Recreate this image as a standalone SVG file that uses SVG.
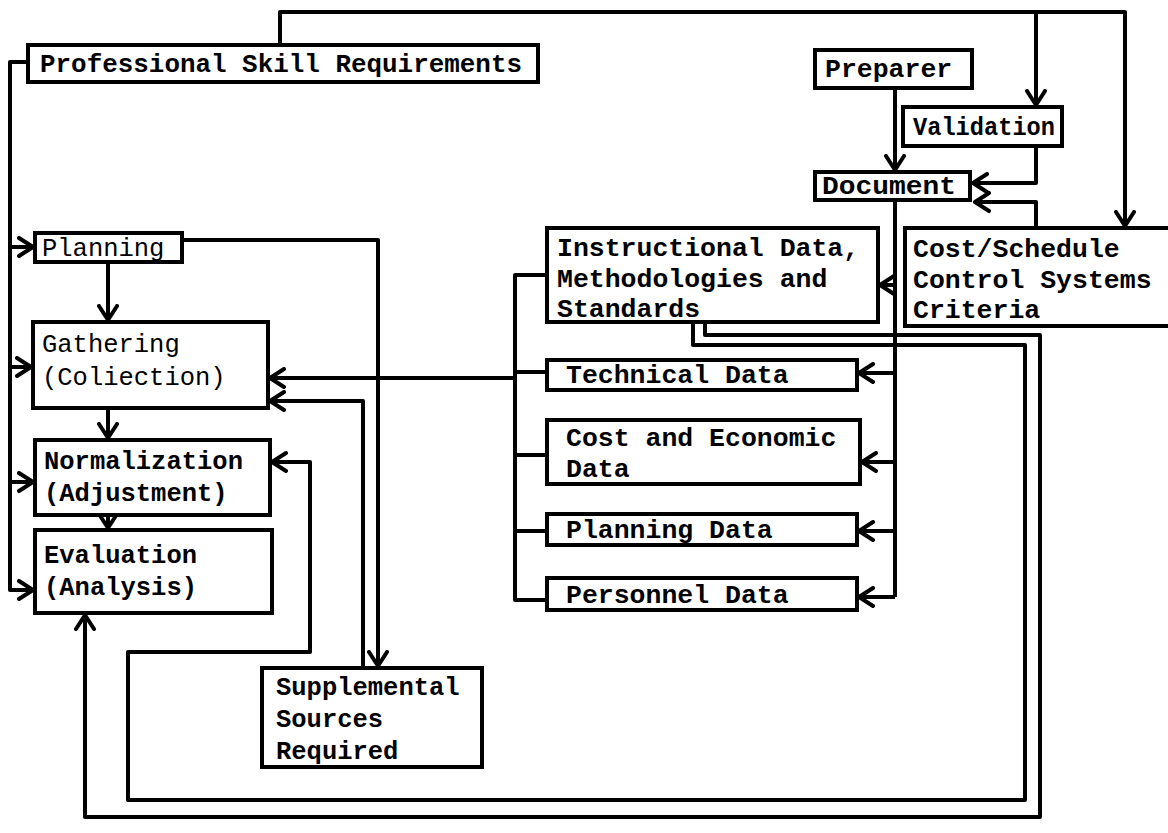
<svg xmlns="http://www.w3.org/2000/svg" width="1168" height="833" viewBox="0 0 1168 833">
<defs>
<marker id="arr" viewBox="0 0 18 22" refX="16" refY="11" markerWidth="18" markerHeight="22" markerUnits="userSpaceOnUse" orient="auto">
<path d="M2,2 L16,11 L2,20" fill="none" stroke="#000" stroke-width="4" stroke-linecap="round" stroke-linejoin="round"/>
</marker>
<style>
.box{fill:#fff;stroke:#000;stroke-width:4}
.ln{fill:none;stroke:#000;stroke-width:4;stroke-linejoin:round}
.a{marker-end:url(#arr)}
text{font-family:"Liberation Mono","DejaVu Sans Mono",monospace;font-size:25.5px;fill:#000;font-weight:bold}
.lt{font-weight:normal}
.r{font-size:26.5px}
</style>
</defs>
<rect width="1168" height="833" fill="#fff"/>
<g id="connectors">
<path class="ln a" d="M280,45 V12 H1125 V226"/>
<path class="ln a" d="M1036,12 V105"/>
<path class="ln a" d="M895,88 V170"/>
<path class="ln a" d="M1036,146 V183 H973"/>
<path class="ln a" d="M1036,228 V202 H975"/>
<path class="ln" d="M895,200 V597"/>
<path class="ln a" d="M895,285 H880"/>
<path class="ln a" d="M895,373 H859"/>
<path class="ln a" d="M895,462 H862"/>
<path class="ln a" d="M895,531 H859"/>
<path class="ln a" d="M895,597 H859"/>
<path class="ln" d="M547,275 H515 V600 H547"/>
<path class="ln" d="M515,372 H547"/>
<path class="ln" d="M515,455 H547"/>
<path class="ln" d="M515,531 H547"/>
<path class="ln a" d="M515,378 H270"/>
<path class="ln a" d="M182,240 H378 V666"/>
<path class="ln a" d="M363,668 V401 H270"/>
<path class="ln a" d="M108,262 V320"/>
<path class="ln a" d="M108,408 V438"/>
<path class="ln a" d="M108,515 V528"/>
<path class="ln a" d="M28,62 H10 V590 H33"/>
<path class="ln a" d="M10,247 H33"/>
<path class="ln a" d="M10,367 H31"/>
<path class="ln a" d="M10,482 H33"/>
<path class="ln a" d="M693,322 V345 H1025 V800 H128 V652 H310 V462 H272"/>
<path class="ln a" d="M705,322 V335 H1040 V817 H85 V615"/>
</g>
<g id="psr"><rect class="box" x="28" y="45" width="510" height="37"/><text x="40" y="72" textLength="482" lengthAdjust="spacingAndGlyphs">Professional Skill Requirements</text></g>
<g id="preparer"><rect class="box" x="815" y="50" width="157" height="38"/><text class="r" x="825" y="77">Preparer</text></g>
<g id="validation"><rect class="box" x="903" y="107" width="159" height="39"/><text class="r" x="913" y="135" textLength="142" lengthAdjust="spacingAndGlyphs">Validation</text></g>
<g id="document"><rect class="box" x="815" y="172" width="155" height="28"/><text class="r" x="822" y="194" textLength="134" lengthAdjust="spacingAndGlyphs">Document</text></g>
<g id="planning"><rect class="box" x="35" y="233" width="147" height="29"/><text class="lt" x="42" y="256">Planning</text></g>
<g id="gathering"><rect class="box" x="33" y="322" width="235" height="86"/><text class="lt" x="42" y="352">Gathering</text><text class="lt" x="42" y="385">(Coliection)</text></g>
<g id="normalization"><rect class="box" x="35" y="440" width="235" height="75"/><text x="44" y="469">Normalization</text><text x="44" y="501">(Adjustment)</text></g>
<g id="evaluation"><rect class="box" x="35" y="530" width="237" height="83"/><text x="44" y="563">Evaluation</text><text x="44" y="595">(Analysis)</text></g>
<g id="instructional"><rect class="box" x="547" y="228" width="331" height="94"/><text class="r" x="557" y="256">Instructional Data,</text><text class="r" x="557" y="287">Methodologies and</text><text class="r" x="557" y="317">Standards</text></g>
<g id="costschedule"><rect class="box" x="905" y="228" width="275" height="98"/><text class="r" x="913" y="257">Cost/Schedule</text><text class="r" x="913" y="288">Control Systems</text><text class="r" x="913" y="318">Criteria</text></g>
<g id="technical"><rect class="box" x="547" y="360" width="310" height="30"/><text class="r" x="566" y="383">Technical Data</text></g>
<g id="costeconomic"><rect class="box" x="547" y="420" width="313" height="64"/><text class="r" x="566" y="446">Cost and Economic</text><text class="r" x="566" y="477">Data</text></g>
<g id="planningdata"><rect class="box" x="547" y="514" width="310" height="31"/><text class="r" x="566" y="538">Planning Data</text></g>
<g id="personnel"><rect class="box" x="547" y="578" width="310" height="32"/><text class="r" x="566" y="603">Personnel Data</text></g>
<g id="supplemental"><rect class="box" x="262" y="668" width="220" height="99"/><text x="276" y="695">Supplemental</text><text x="276" y="727">Sources</text><text x="276" y="759">Required</text></g>
</svg>
